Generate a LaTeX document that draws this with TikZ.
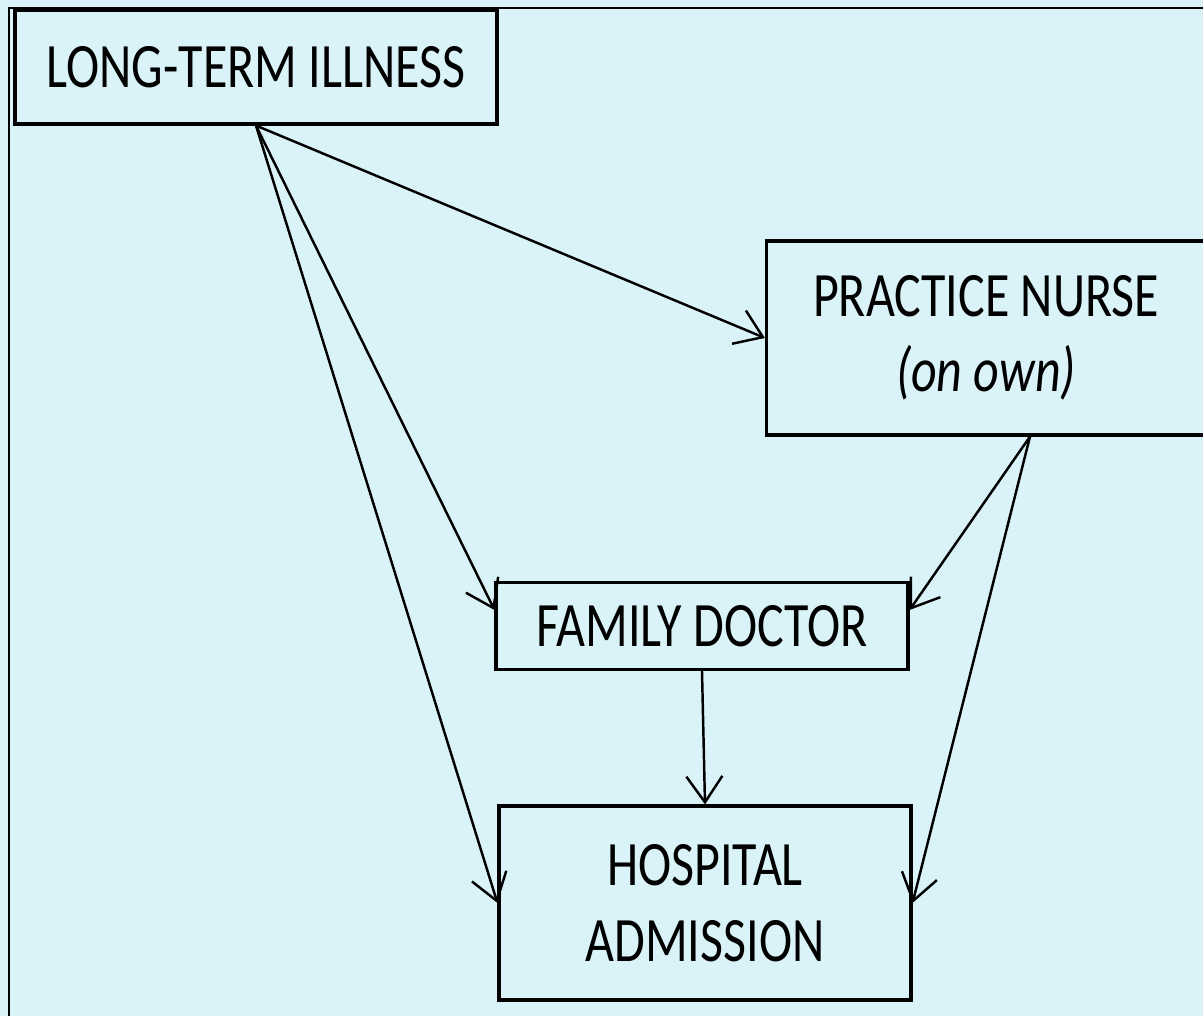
\documentclass[tikz,border=0pt]{standalone}
\usepackage{fontspec}
\setmainfont{Carlito}[FakeStretch=0.79]
\usepackage{tikz}
\usetikzlibrary{arrows.meta}
\definecolor{panel}{HTML}{DAF3F8}

\begin{document}
\begin{tikzpicture}[x=0.02cm, y=-0.02cm,
    box/.style={draw, line width=1.8pt, fill=panel, inner sep=0pt,
      align=center, font=\fontsize{36}{43}\selectfont},
    link/.style={line width=1.4pt, -{Straight Barb[length=0.52cm, width=0.72cm]}}]
  % background and frame
  \fill[panel] (0,0) rectangle (1203,1016);
  \useasboundingbox (0,0) rectangle (1203,1016);
  \draw[line width=1pt] (1220,8) -- (9,8) -- (9,1030);
  % boxes
  \node[box, minimum width=9.64cm, minimum height=2.28cm] (ill) at (256,67) {LONG-TERM ILLNESS};
  \node[box, minimum width=8.78cm, minimum height=3.88cm] (nurse) at (986,338)
    {PRACTICE NURSE\\\textit{(on own)}};
  \node[box, minimum width=8.24cm, minimum height=1.74cm] (doctor) at (702,626) {FAMILY DOCTOR};
  \node[box, minimum width=8.24cm, minimum height=3.88cm] (hosp) at (705,903) {HOSPITAL\\ADMISSION};
  % links
  \draw[link] (ill.south) -- (nurse.west);
  \draw[link] (ill.south) -- ([yshift=0.32cm]doctor.west);
  \draw[link] (ill.south) -- (hosp.west);
  \draw[link] ([xshift=0.88cm]nurse.south) -- ([yshift=0.32cm]doctor.east);
  \draw[link] ([xshift=0.88cm]nurse.south) -- (hosp.east);
  \draw[link] (doctor.south) -- (hosp.north);
\end{tikzpicture}
\end{document}
